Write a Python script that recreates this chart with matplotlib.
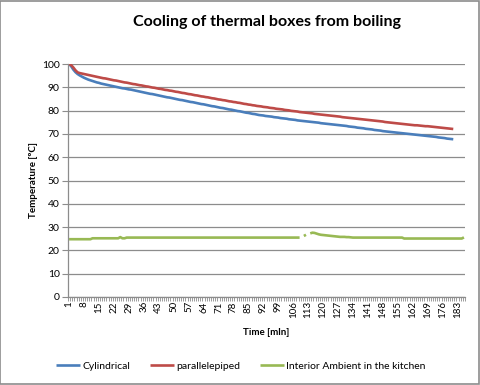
import matplotlib
matplotlib.use("Agg")
import matplotlib.pyplot as plt
import numpy as np
from matplotlib.patches import Rectangle
from matplotlib.ticker import FixedLocator

plt.rcParams['font.family'] = ['Lato', 'DejaVu Sans']

title = "Cooling of thermal boxes from boiling"
series_names = ["Cylindrical", "parallelepiped", "Interior Ambient in the kitchen"]

cylindrical = [
    100.0, 99.0, 97.6, 96.5, 95.7, 95.1, 94.6, 94.1, 93.7, 93.3,
    93.0, 92.7, 92.4, 92.1, 91.9, 91.6, 91.4, 91.2, 91.0, 90.8,
    90.6, 90.4, 90.2, 90.0, 89.8, 89.6, 89.5, 89.3, 89.1, 89.0,
    88.8, 88.6, 88.4, 88.2, 88.0, 87.8, 87.6, 87.4, 87.2, 87.1,
    86.9, 86.7, 86.5, 86.3, 86.1, 85.9, 85.7, 85.6, 85.4, 85.2,
    85.0, 84.8, 84.6, 84.5, 84.3, 84.1, 83.9, 83.7, 83.6, 83.4,
    83.2, 83.0, 82.8, 82.7, 82.5, 82.3, 82.1, 81.9, 81.8, 81.6,
    81.4, 81.2, 81.1, 80.9, 80.7, 80.5, 80.4, 80.2, 80.0, 79.8,
    79.7, 79.5, 79.3, 79.1, 79.0, 78.8, 78.6, 78.5, 78.3, 78.1,
    78.0, 77.9, 77.7, 77.6, 77.5, 77.4, 77.2, 77.1, 77.0, 76.8,
    76.7, 76.6, 76.5, 76.3, 76.2, 76.1, 76.0, 75.8, 75.7, 75.6,
    75.5, 75.4, 75.3, 75.2, 75.1, 75.0, 74.9, 74.8, 74.6, 74.5,
    74.4, 74.3, 74.2, 74.1, 74.0, 73.9, 73.8, 73.7, 73.6, 73.5,
    73.4, 73.2, 73.1, 73.0, 72.9, 72.7, 72.6, 72.5, 72.4, 72.2,
    72.1, 72.0, 71.9, 71.7, 71.6, 71.5, 71.4, 71.2, 71.1, 71.0,
    70.9, 70.8, 70.7, 70.6, 70.5, 70.4, 70.3, 70.2, 70.1, 70.0,
    69.9, 69.8, 69.7, 69.6, 69.5, 69.4, 69.3, 69.2, 69.1, 69.0,
    68.9, 68.8, 68.7, 68.5, 68.4, 68.3, 68.2, 68.0, 67.9, 67.8, 67.7,
]

parallelepiped = [
    100.0, 99.5, 98.5, 97.3, 96.4, 96.1, 95.9, 95.7, 95.5, 95.3,
    95.1, 94.9, 94.7, 94.5, 94.3, 94.1, 93.9, 93.8, 93.6, 93.4,
    93.2, 93.0, 92.9, 92.7, 92.5, 92.3, 92.1, 92.0, 91.8, 91.6,
    91.4, 91.3, 91.1, 90.9, 90.8, 90.6, 90.4, 90.3, 90.1, 89.9,
    89.8, 89.6, 89.4, 89.3, 89.1, 88.9, 88.8, 88.6, 88.5, 88.3,
    88.1, 88.0, 87.8, 87.6, 87.5, 87.3, 87.1, 87.0, 86.8, 86.6,
    86.5, 86.3, 86.1, 86.0, 85.8, 85.7, 85.5, 85.3, 85.2, 85.0,
    84.8, 84.7, 84.5, 84.4, 84.2, 84.0, 83.9, 83.7, 83.6, 83.4,
    83.3, 83.1, 82.9, 82.8, 82.6, 82.5, 82.3, 82.2, 82.0, 81.9,
    81.8, 81.6, 81.5, 81.4, 81.2, 81.1, 81.0, 80.8, 80.7, 80.6,
    80.5, 80.3, 80.2, 80.1, 79.9, 79.8, 79.7, 79.6, 79.4, 79.3,
    79.2, 79.1, 79.0, 78.9, 78.8, 78.6, 78.5, 78.4, 78.3, 78.2,
    78.1, 78.0, 77.9, 77.8, 77.7, 77.6, 77.5, 77.4, 77.2, 77.1,
    77.0, 76.9, 76.8, 76.7, 76.6, 76.5, 76.4, 76.3, 76.2, 76.1,
    76.0, 75.9, 75.8, 75.7, 75.6, 75.5, 75.4, 75.3, 75.1, 75.0,
    74.9, 74.8, 74.7, 74.6, 74.5, 74.4, 74.3, 74.2, 74.1, 74.0,
    73.9, 73.8, 73.7, 73.7, 73.6, 73.5, 73.4, 73.3, 73.3, 73.2,
    73.1, 73.0, 72.9, 72.8, 72.7, 72.6, 72.5, 72.4, 72.3, 72.2, 72.1,
]

nan = float('nan')
ambient = [
    24.8, 24.8, 24.8, 24.8, 24.8, 24.8, 24.8, 24.8, 24.8, 24.8,
    24.8, 25.2, 25.2, 25.2, 25.2, 25.2, 25.2, 25.2, 25.2, 25.2,
    25.2, 25.2, 25.2, 25.2, 25.7, 25.2, 25.2, 25.5, 25.5, 25.5,
    25.5, 25.5, 25.5, 25.5, 25.5, 25.5, 25.5, 25.5, 25.5, 25.5,
    25.5, 25.5, 25.5, 25.5, 25.5, 25.5, 25.5, 25.5, 25.5, 25.5,
    25.5, 25.5, 25.5, 25.5, 25.5, 25.5, 25.5, 25.5, 25.5, 25.5,
    25.5, 25.5, 25.5, 25.5, 25.5, 25.5, 25.5, 25.5, 25.5, 25.5,
    25.5, 25.5, 25.5, 25.5, 25.5, 25.5, 25.5, 25.5, 25.5, 25.5,
    25.5, 25.5, 25.5, 25.5, 25.5, 25.5, 25.5, 25.5, 25.5, 25.5,
    25.5, 25.5, 25.5, 25.5, 25.5, 25.5, 25.5, 25.5, 25.5, 25.5,
    25.5, 25.5, 25.5, 25.5, 25.5, 25.5, 25.5, 25.5, 25.5, nan,
    26.2, 26.7, nan, 27.3, 27.6, 27.5, 27.2, 26.9, 26.7, 26.6,
    26.5, 26.4, 26.3, 26.2, 26.1, 26.0, 25.9, 25.8, 25.8, 25.8,
    25.7, 25.7, 25.6, 25.5, 25.5, 25.5, 25.5, 25.5, 25.5, 25.5,
    25.5, 25.5, 25.5, 25.5, 25.5, 25.5, 25.5, 25.5, 25.5, 25.5,
    25.5, 25.5, 25.5, 25.5, 25.5, 25.5, 25.5, 25.1, 25.1, 25.1,
    25.1, 25.1, 25.1, 25.1, 25.1, 25.1, 25.1, 25.1, 25.1, 25.1,
    25.1, 25.1, 25.1, 25.1, 25.1, 25.1, 25.1, 25.1, 25.1, 25.1,
    25.1, 25.1, 25.1, 25.1, 25.1, 25.6,
]

colors = ["#4A7EBB", "#BE4B48", "#98B954"]
n_categories = len(ambient)
xtick_labels = [str(v) for v in range(1, n_categories + 1, 7)]

fig = plt.figure(figsize=(4.81, 3.85), dpi=100)
fig.patches.append(Rectangle((0.001, 0.002), 0.995, 0.995, transform=fig.transFigure,
                             fill=False, edgecolor="#8C8C8C", linewidth=1.2))
ax = fig.add_axes([68/481, 1-297/385, (465-68)/481, (297-64)/385])

for data, c, name in zip([cylindrical, parallelepiped, ambient], colors, series_names):
    x = np.arange(1, len(data) + 1)
    ax.plot(x, data, color=c, linewidth=1.9, label=name, solid_capstyle='butt')

ax.set_xlim(0.5, n_categories + 0.5)
ax.set_ylim(0, 100)
ax.set_yticks(np.arange(0, 101, 10))
ax.yaxis.grid(True, color="#8C8C8C", linewidth=0.9)
ax.set_axisbelow(True)

ax.set_xticks([int(s) for s in xtick_labels])
ax.set_xticklabels(xtick_labels, rotation=90, fontsize=7)
ax.xaxis.set_minor_locator(FixedLocator(np.arange(0.5, n_categories + 1, 1)))
ax.tick_params(axis='x', which='major', length=0, pad=3)
ax.tick_params(axis='x', which='minor', length=3, color="#8C8C8C", width=0.6)
ax.tick_params(axis='y', which='major', length=4, color="#8C8C8C", labelsize=7.5, pad=2)

for s in ['top', 'right']:
    ax.spines[s].set_visible(False)
for s in ['left', 'bottom']:
    ax.spines[s].set_color("#8C8C8C")
    ax.spines[s].set_linewidth(0.9)

fig.text(267/481, 1-22/385, title, fontsize=11.5, fontweight='bold', ha='center', va='center')
ax.set_ylabel("Temperature [ºC]", fontsize=7, fontweight='bold', labelpad=3)
ax.set_xlabel("Time [mln]", fontsize=7, fontweight='bold', labelpad=7)

fig.legend(loc='center', bbox_to_anchor=(0.5, 1-366/385), ncol=3, frameon=False,
           fontsize=7.5, handlelength=2.3, columnspacing=1.9, handletextpad=0.2)

fig.savefig("out.png", dpi=100)
